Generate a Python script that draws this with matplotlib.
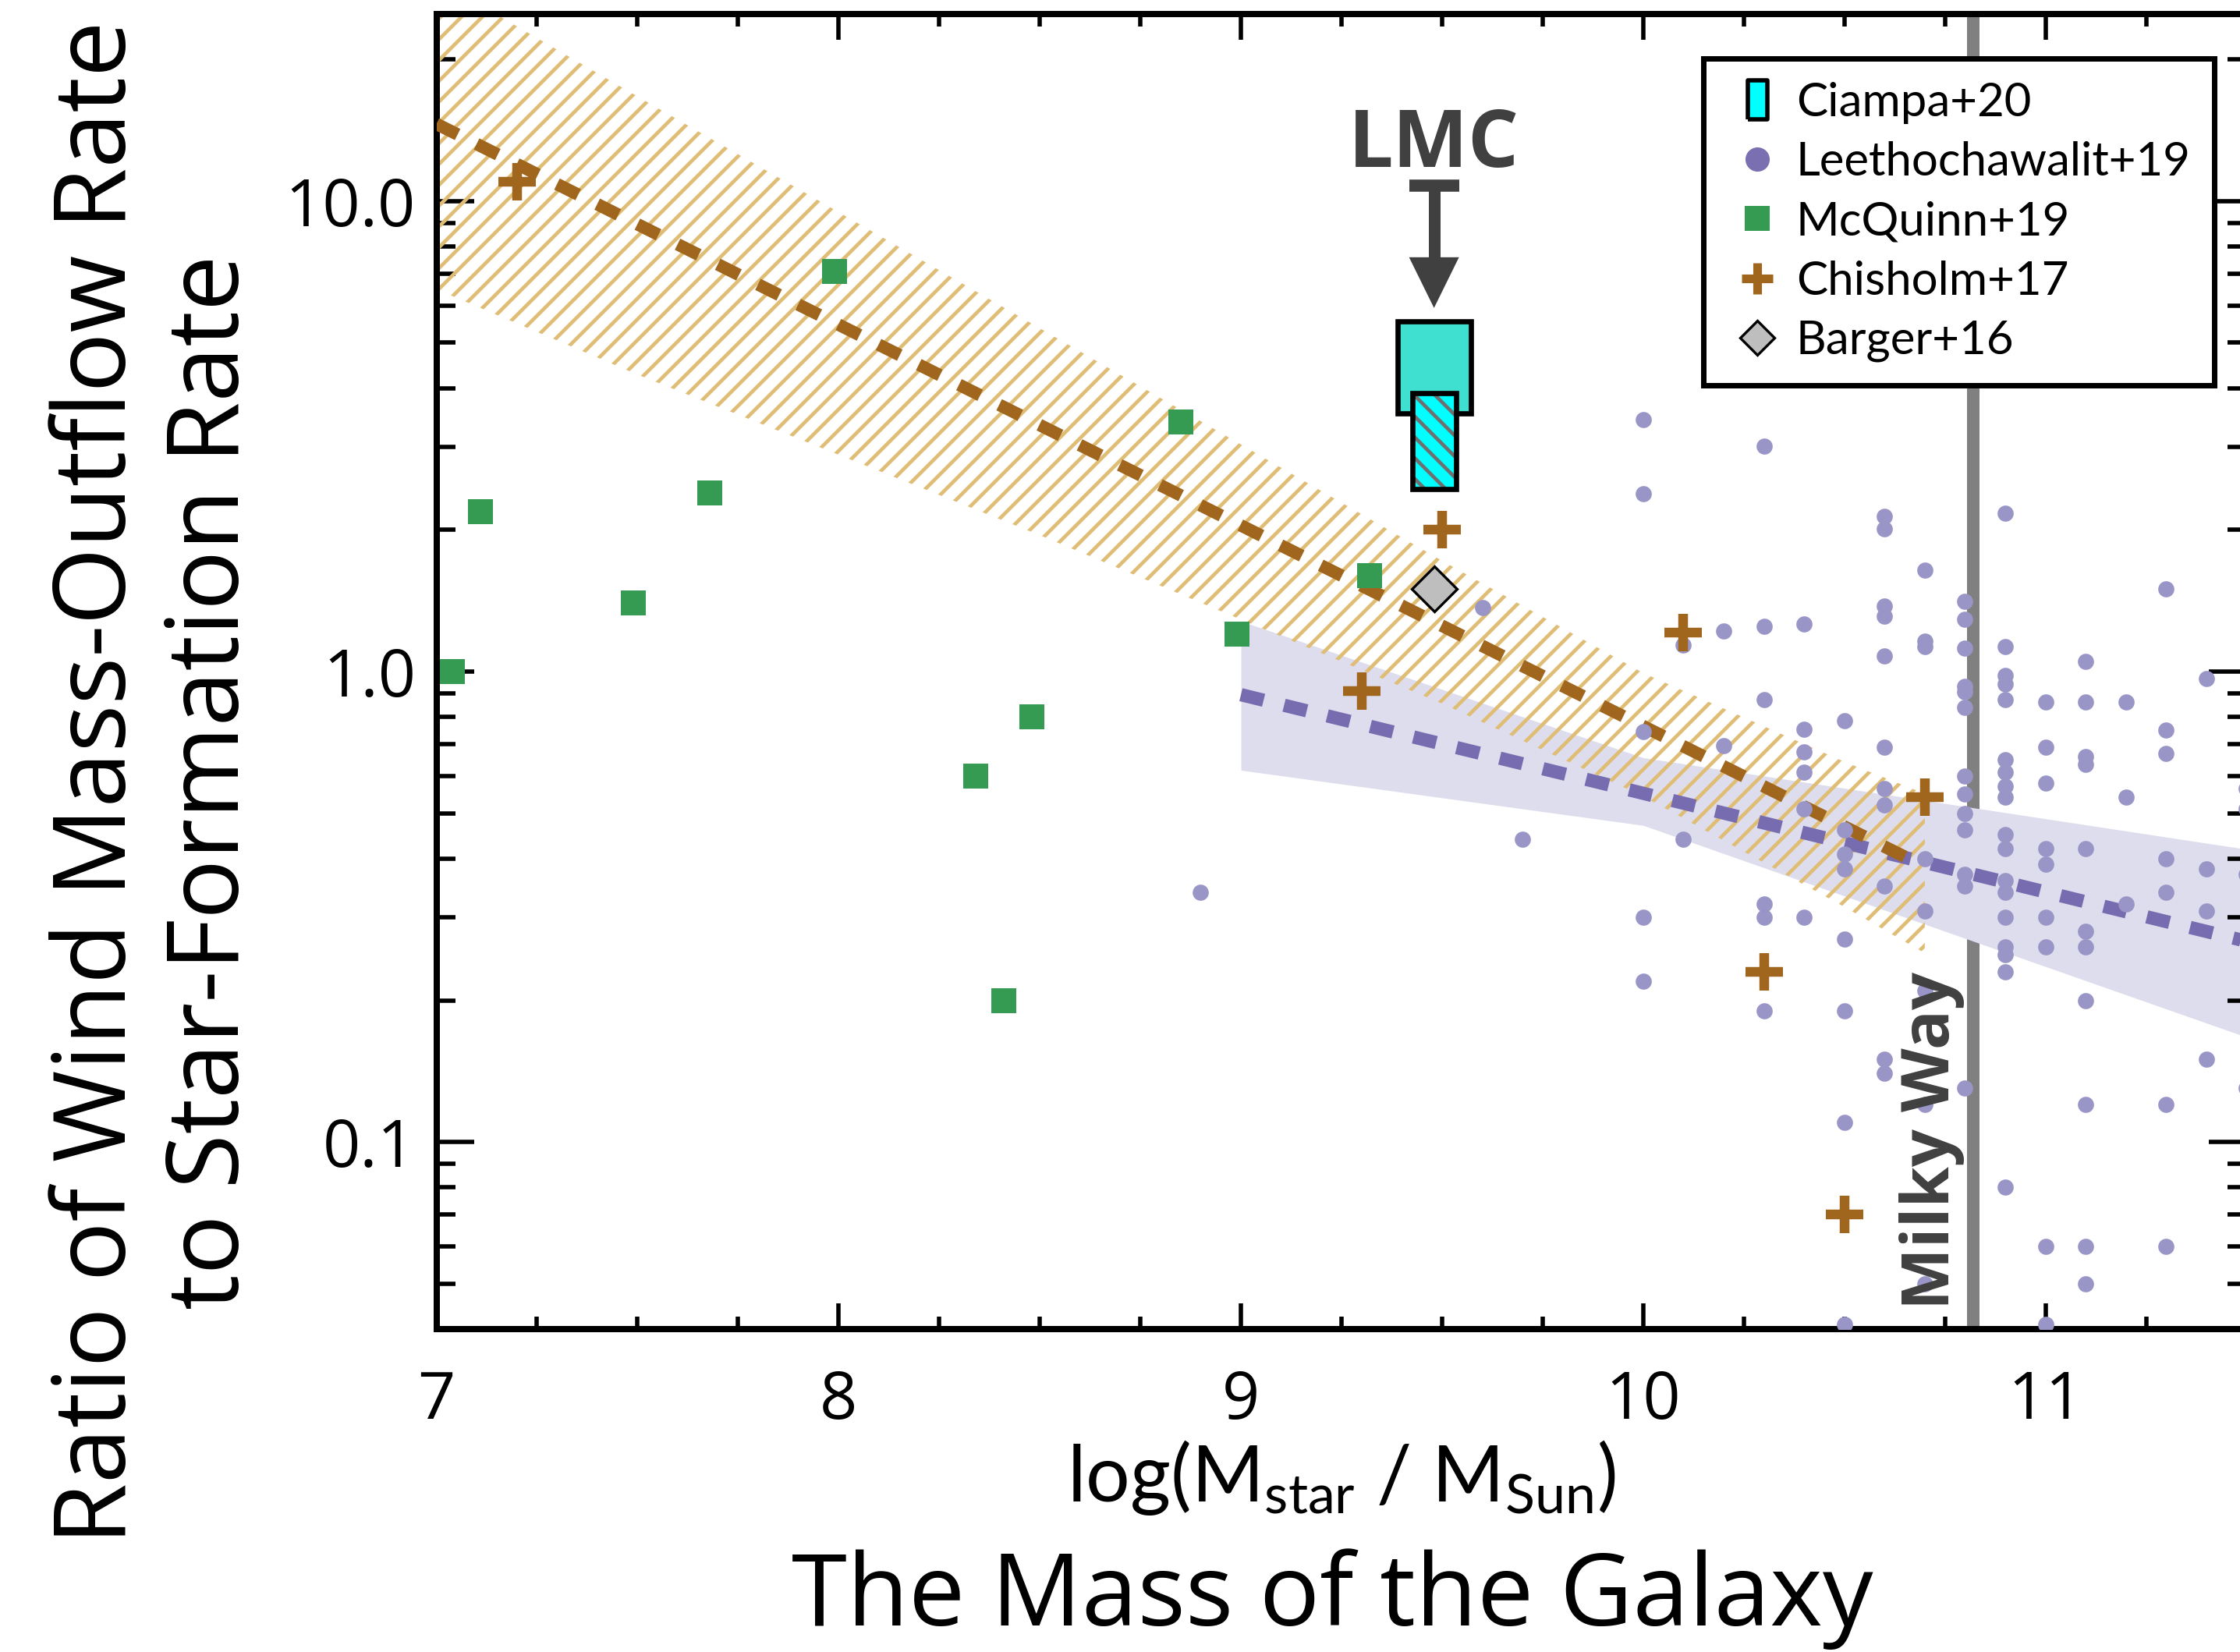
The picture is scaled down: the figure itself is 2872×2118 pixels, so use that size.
import matplotlib
matplotlib.use('Agg')
import matplotlib.pyplot as plt
from matplotlib.lines import Line2D
from matplotlib.ticker import FixedLocator, FixedFormatter, MultipleLocator, LogLocator, NullFormatter

plt.rcParams['font.family'] = ['Open Sans', 'DejaVu Sans']
plt.rcParams['mathtext.fontset'] = 'custom'
plt.rcParams['mathtext.rm'] = 'Lato'
plt.rcParams['mathtext.it'] = 'Lato:italic'
plt.rcParams['mathtext.bf'] = 'Lato:bold'
plt.rcParams['hatch.linewidth'] = 2.1
plt.rcParams['axes.linewidth'] = 3.6

# ---------------- data ----------------
xticks = [7, 8, 9, 10, 11]
yticks = [0.1, 1.0, 10.0]
ytick_labels = ['0.1', '1.0', '10.0']

# McQuinn+19
mcq_x = [7.04, 7.11, 7.49, 7.68, 7.99, 8.34, 8.41, 8.48, 8.85, 8.99, 9.32]
mcq_y = [1.00, 2.19, 1.40, 2.40, 7.10, 0.60, 0.20, 0.80, 3.40, 1.20, 1.60]

# Chisholm+17
chis_x = [7.20, 9.30, 9.50, 10.10, 10.30, 10.50, 10.70]
chis_y = [11.0, 0.91, 2.00, 1.21, 0.230, 0.070, 0.54]

# Barger+16
barger_x = [9.48]
barger_y = [1.50]

# Ciampa+20 (LMC)
ciampa_x = 9.48
ciampa_outer = [3.54, 5.55]
ciampa_inner = [2.44, 3.91]
lmc_arrow_top = 10.81
lmc_arrow_base = 7.6
lmc_arrow_tip = 5.93
lmc_label_y = 11.83

# Leethochawalit+19 (grouped by stellar-mass column)
leeth_groups = [
    (8.9, [0.34]),
    (9.6, [1.37]),
    (9.7, [0.44]),
    (10.0, [3.43, 2.39, 0.746, 0.30, 0.22]),
    (10.1, [1.14, 0.44]),
    (10.2, [1.22, 0.696]),
    (10.3, [3.01, 1.25, 0.87, 0.32, 0.30, 0.19]),
    (10.4, [1.26, 0.755, 0.676, 0.61, 0.51, 0.30]),
    (10.5, [0.787, 0.46, 0.41, 0.38, 0.27, 0.19, 0.11, 0.041]),
    (10.6, [2.14, 2.01, 1.38, 1.31, 1.08, 0.69, 0.565, 0.52, 0.35, 0.15, 0.14]),
    (10.7, [1.64, 1.16, 1.13, 0.40, 0.31, 0.21, 0.12, 0.05]),
    (10.8, [1.41, 1.29, 1.12, 0.93, 0.906, 0.84, 0.60, 0.55, 0.50, 0.46, 0.37, 0.35, 0.13]),
    (10.9, [2.17, 1.13, 0.98, 0.94, 0.87, 0.65, 0.61, 0.57, 0.54, 0.45, 0.42, 0.36,
            0.34, 0.30, 0.26, 0.25, 0.23, 0.08]),
    (11.0, [0.86, 0.69, 0.58, 0.42, 0.39, 0.30, 0.26, 0.06, 0.041]),
    (11.1, [1.05, 0.86, 0.66, 0.635, 0.42, 0.28, 0.26, 0.20, 0.12, 0.06, 0.05]),
    (11.2, [0.86, 0.54, 0.32]),
    (11.3, [1.50, 0.75, 0.67, 0.40, 0.34, 0.12, 0.06]),
    (11.4, [0.966, 0.38, 0.31, 0.15]),
    (11.5, [0.565, 0.51, 0.37, 0.13]),
]
leeth_x = [gx for gx, ys in leeth_groups for _ in ys]
leeth_y = [y for gx, ys in leeth_groups for y in ys]

# Leethochawalit+19 fit and band
leeth_fit_x = [9.0, 11.5]
leeth_fit_y = [0.893, 0.267]
leeth_band_x = [9.0, 10.0, 11.5]
leeth_band_lo = [0.617, 0.471, 0.167]
leeth_band_hi = [1.28, 0.656, 0.419]

# Chisholm+17 fit and band
chis_fit_x = [7.0, 10.65]
chis_fit_y = [14.6, 0.404]
chis_band_x = [7.0, 7.5, 8.0, 8.5, 9.0, 9.5, 10.0, 10.5, 10.7]
chis_band_lo = [6.50, 4.28, 2.89, 1.95, 1.29, 0.855, 0.543, 0.316, 0.252]
chis_band_hi = [29.6, 16.7, 9.48, 5.37, 3.04, 1.72, 0.993, 0.643, 0.55]

milky_way_x = 10.82

# ---------------- figure ----------------
DPI = 160
W, H = 2872, 2118
fig = plt.figure(figsize=(W / DPI, H / DPI), dpi=DPI)
ax = fig.add_axes([559.5 / W, 1 - 1704 / H, 2321 / W, 1686 / H])
ax.set_yscale('log')
ax.set_xlim(7, 11.5)
ax.set_ylim(0.04, 25)

# Milky Way line (under the band)
ax.axvline(milky_way_x, color='#808080', lw=7.2, zorder=0.9)

# Leethochawalit band
ax.fill_between(leeth_band_x, leeth_band_lo, leeth_band_hi, color='#dddded', lw=0, zorder=1)

# Chisholm hatched band
plt.rcParams['hatch.color'] = '#dfbd75'
ax.fill_between(chis_band_x, chis_band_lo, chis_band_hi, facecolor='none',
                edgecolor='#dfbd75', hatch='//', lw=0, zorder=2)

# fit lines
ax.plot(leeth_fit_x, leeth_fit_y, color='#776cb0', lw=7.65, ls=(0, (1.76, 1.59)),
        dash_capstyle='butt', zorder=3)
ax.plot(chis_fit_x, chis_fit_y, color='#a0661e', lw=7.2, ls=(0, (1.9, 1.7)),
        dash_capstyle='butt', zorder=3.5)

# Leethochawalit points
ax.plot(leeth_x, leeth_y, ls='none', marker='o', ms=9.3, color='#9995c7', mec='none', zorder=4)

# McQuinn
ax.plot(mcq_x, mcq_y, ls='none', marker='s', ms=14.2, color='#359b52', mec='none', zorder=5)

# Ciampa boxes
ax.bar([ciampa_x], [ciampa_outer[1] - ciampa_outer[0]], bottom=[ciampa_outer[0]], width=0.182,
       color='#40e0d0', edgecolor='black', linewidth=3, zorder=5)
plt.rcParams['hatch.color'] = '#707070'
ax.bar([ciampa_x], [ciampa_inner[1] - ciampa_inner[0]], bottom=[ciampa_inner[0]], width=0.109,
       color='#00ffff', edgecolor='#707070', hatch='\\\\', linewidth=0, zorder=5.1)
ax.bar([ciampa_x], [ciampa_inner[1] - ciampa_inner[0]], bottom=[ciampa_inner[0]], width=0.109,
       color='none', edgecolor='black', linewidth=3, zorder=5.2)

# Chisholm points
ax.plot(chis_x, chis_y, ls='none', marker='+', ms=21.5, mew=5.6, color='#a0661e', zorder=6)

# Barger
ax.plot(barger_x, barger_y, ls='none', marker='D', ms=18.4, mfc='#bebebe', mec='black',
        mew=1.5, zorder=6)

# LMC label and arrow
dark = '#404040'
ax.text(ciampa_x, lmc_label_y, 'LMC', ha='center', va='baseline', fontsize=46,
        fontweight='bold', color=dark, zorder=7)
ax.plot([ciampa_x, ciampa_x], [lmc_arrow_top, lmc_arrow_base], color=dark, lw=6.75,
        solid_capstyle='butt', zorder=7)
ax.plot([ciampa_x], [lmc_arrow_top], ls='none', marker='_', ms=28.8, mew=7, color=dark, zorder=7)
ax.annotate('', xy=(ciampa_x, lmc_arrow_tip), xytext=(ciampa_x, lmc_arrow_base),
            arrowprops=dict(arrowstyle='-|>,head_length=2.925,head_width=1.44', lw=0,
                            color=dark, shrinkA=0, shrinkB=0, mutation_scale=10), zorder=7)

# Milky Way label
ax.text(10.761, 0.044, 'Milky Way', rotation=90, rotation_mode='anchor', ha='left',
        va='baseline', fontsize=38, fontweight='bold', color=dark, zorder=7)

# ticks
ax.xaxis.set_major_locator(FixedLocator(xticks))
ax.xaxis.set_minor_locator(MultipleLocator(0.25))
ax.set_xticklabels([str(t) for t in xticks])
ax.yaxis.set_major_locator(FixedLocator(yticks))
ax.yaxis.set_major_formatter(FixedFormatter(ytick_labels))
ax.yaxis.set_minor_locator(LogLocator(base=10, subs=range(2, 10)))
ax.yaxis.set_minor_formatter(NullFormatter())
ax.tick_params(which='both', direction='in', top=True, right=True, width=2.5)
ax.tick_params(axis='x', which='major', length=15, pad=23, labelsize=38)
ax.tick_params(axis='x', which='minor', length=7.2)
ax.tick_params(axis='y', which='major', length=21.6, pad=12, labelsize=38)
ax.tick_params(axis='y', which='minor', length=10.8)

# legend
rect_marker = [(-0.5, -1), (0.5, -1), (0.5, 1), (-0.5, 1), (-0.5, -1)]
handles = [
    Line2D([], [], ls='none', marker=rect_marker, ms=22.5, mfc='#00ffff', mec='black', mew=2.5),
    Line2D([], [], ls='none', marker='o', ms=14, mfc='#7a6fb0', mec='none'),
    Line2D([], [], ls='none', marker='s', ms=14.4, mfc='#359b52', mec='none'),
    Line2D([], [], ls='none', marker='+', ms=18, mew=5, color='#a0661e'),
    Line2D([], [], ls='none', marker='D', ms=14, mfc='#bebebe', mec='black', mew=1.5),
]
labels = ['Ciampa+20', 'Leethochawalit+19', 'McQuinn+19', 'Chisholm+17', 'Barger+16']
leg = ax.legend(handles, labels, loc='upper left', bbox_to_anchor=(2184 / W, 1 - 75 / H),
                bbox_transform=fig.transFigure, prop={'family': ['Lato'], 'size': 27},
                frameon=True, fancybox=False,
                edgecolor='black', framealpha=1, borderpad=0.5, labelspacing=0.37,
                handlelength=1.3, handletextpad=0.18, borderaxespad=0)
leg.get_frame().set_linewidth(3.15)
leg.set_zorder(10)

# axis titles
fig.text(160.7 / W, 1 - 1003 / H, 'Ratio of Wind Mass-Outflow Rate', rotation=90,
         rotation_mode='anchor', ha='center', va='baseline', fontsize=57.5)
fig.text(306 / W, 1 - 1003 / H, 'to Star-Formation Rate', rotation=90,
         rotation_mode='anchor', ha='center', va='baseline', fontsize=57.5)
fig.text(1720 / W, 1 - 1925 / H, r'log(M$_{\rm star}$ / M$_{\rm Sun}$)', ha='center',
         va='baseline', fontsize=45, family=['Lato'])
fig.text(1708 / W, 1 - 2084 / H, 'The Mass of the Galaxy', ha='center', va='baseline',
         fontsize=58)

fig.savefig('out.png', dpi=DPI, facecolor='white')
